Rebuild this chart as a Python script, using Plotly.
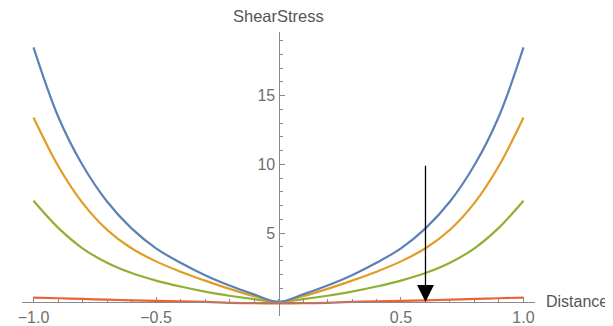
import plotly.graph_objects as go

# ---- data ----
distance = [-1.0, -0.9, -0.8, -0.7, -0.6, -0.5, -0.4, -0.3, -0.2, -0.1, 0.0,
            0.1, 0.2, 0.3, 0.4, 0.5, 0.6, 0.7, 0.8, 0.9, 1.0]
blue = [18.5, 13.5, 9.95, 7.3, 5.35, 3.9, 2.85, 1.95, 1.2, 0.55, 0.0,
        0.55, 1.2, 1.95, 2.85, 3.9, 5.35, 7.3, 9.95, 13.5, 18.5]
orange = [13.4, 9.9, 7.2, 5.25, 3.9, 2.95, 2.2, 1.55, 0.95, 0.42, 0.0,
          0.42, 0.95, 1.55, 2.2, 2.95, 3.9, 5.25, 7.2, 9.9, 13.4]
green = [7.35, 5.4, 3.9, 2.85, 2.1, 1.55, 1.12, 0.75, 0.45, 0.2, 0.0,
         0.2, 0.45, 0.75, 1.12, 1.55, 2.1, 2.85, 3.9, 5.4, 7.35]
red = [0.32, 0.27, 0.22, 0.17, 0.12, 0.08, 0.04, 0.0, -0.06, -0.09, -0.1,
       -0.09, -0.06, 0.0, 0.04, 0.08, 0.12, 0.17, 0.22, 0.27, 0.32]

x_tickvals = [-1.0, -0.5, 0.5, 1.0]
x_ticktext = ["\u22121.0", "\u22120.5", "0.5", "1.0"]
y_tickvals = [5, 10, 15]
y_ticktext = ["5", "10", "15"]

arrow_x = 0.6
arrow_top = 10
arrow_bottom = 0

x_range = [-1.047, 1.047]
y_range = [-1.02, 19.62]

colors = ["#5E81B5", "#E19C24", "#8FB032", "#EB6235"]
series = [blue, orange, green, red]

fig = go.Figure()
for s, c in zip(series[::-1], colors[::-1]):
    fig.add_trace(go.Scatter(x=distance, y=s, mode="lines",
                             line=dict(color=c, width=2.2, shape="spline", smoothing=1.0),
                             showlegend=False, hoverinfo="skip"))

axis_col = "#8a8a8a"
lab_col = "#6e6e6e"
font_fam = "Liberation Sans, Arial, sans-serif"

# the page body adds an 8px offset, so the figure is 8px smaller and margins shifted
fig.update_layout(
    width=605, height=318,
    margin=dict(l=14, r=78, t=24, b=10),
    paper_bgcolor="white", plot_bgcolor="white",
    font=dict(family=font_fam, size=16, color=lab_col),
    xaxis=dict(range=x_range, anchor="free",
               position=(0 - y_range[0]) / (y_range[1] - y_range[0]),
               showgrid=False, zeroline=False, showline=True,
               linecolor=axis_col, linewidth=1.2,
               tickmode="array", tickvals=x_tickvals, ticktext=x_ticktext,
               ticks="inside", ticklen=5, tickwidth=1, tickcolor=axis_col,
               minor=dict(dtick=0.1, tick0=0, ticks="inside", ticklen=3,
                          tickwidth=1, tickcolor=axis_col, showgrid=False),
               tickfont=dict(size=16, color=lab_col, family=font_fam),
               ticklabelstandoff=1, automargin=False, fixedrange=True),
    yaxis=dict(range=y_range, anchor="free",
               position=(0 - x_range[0]) / (x_range[1] - x_range[0]),
               showgrid=False, zeroline=False, showline=True,
               linecolor=axis_col, linewidth=1.2,
               tickmode="array", tickvals=y_tickvals, ticktext=y_ticktext,
               ticks="inside", ticklen=5, tickwidth=1, tickcolor=axis_col,
               minor=dict(dtick=1, tick0=0, ticks="inside", ticklen=3,
                          tickwidth=1, tickcolor=axis_col, showgrid=False),
               tickfont=dict(size=16, color=lab_col, family=font_fam),
               ticklabelstandoff=0, automargin=False, fixedrange=True),
)

fig.add_annotation(x=arrow_x, y=arrow_bottom, ax=arrow_x, ay=arrow_top,
                   xref="x", yref="y", axref="x", ayref="y",
                   showarrow=True, arrowhead=2, arrowsize=2.6, arrowwidth=1.3,
                   arrowcolor="black", standoff=0, text="")

fig.add_annotation(text="ShearStress", xref="paper", yref="paper",
                   x=0.5, y=1, yshift=16, showarrow=False,
                   xanchor="center", yanchor="middle",
                   font=dict(size=16.5, color="#555555", family=font_fam))
fig.add_annotation(text="Distance", xref="paper", yref="paper",
                   x=1, y=(0 - y_range[0]) / (y_range[1] - y_range[0]),
                   xshift=9, showarrow=False, xanchor="left", yanchor="middle",
                   font=dict(size=16, color="#555555", family=font_fam))

fig.write_html("out.html")
